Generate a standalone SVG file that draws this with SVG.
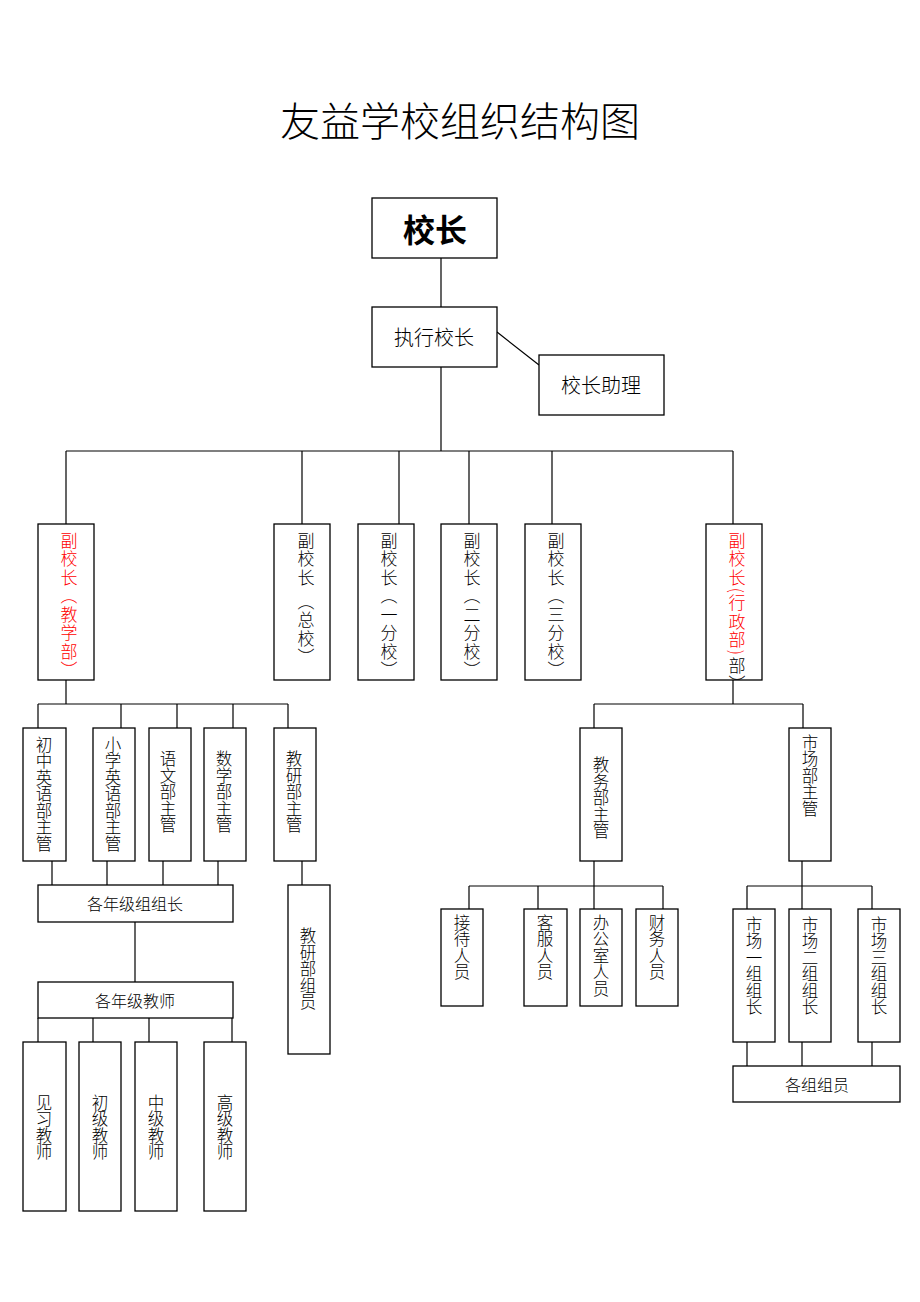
<svg xmlns="http://www.w3.org/2000/svg" width="920" height="1302" viewBox="0 0 920 1302">
<style>
.bg{fill:#fff}
.box{fill:#fff;stroke:#000;stroke-width:1.3}
.conn{fill:none;stroke:#000;stroke-width:1.2}
text{font-family:"Noto Sans CJK SC","Noto Sans CJK JP",sans-serif;fill:#000;font-weight:300}
.h{font-size:16px;text-anchor:middle;dominant-baseline:central}
.big{font-size:20px}
.top{font-size:32px;font-weight:bold}
.title{font-size:40px}
.v{writing-mode:vertical-rl;font-size:16.5px}
.vp{writing-mode:vertical-rl;font-size:17px;letter-spacing:1.5px}
.mid{text-anchor:middle}
.red{fill:#ff0000}
</style>
<rect class="bg" x="0" y="0" width="920" height="1302"/>
<text x="460" y="119" class="h title">友益学校组织结构图</text>

<g id="connectors">
<path class="conn" d="M441 258V307 M497 332L539 365 M441 367V451 M66 451H733 M66 451V524 M302 451V524 M399 451V524 M469 451V524 M552 451V524 M733 451V524
M66 680V704 M38 704H288 M38 704V728 M121 704V728 M177 704V728 M233 704V728 M288 704V728
M52 861V885 M107 861V885 M163 861V885 M218 861V885 M302 861V885
M135 922V982
M38 1018V1042 M93 1018V1042 M149 1018V1042 M232 1018V1042
M733 680V704 M594 704H803 M594 704V728 M803 704V728
M594 861V886 M469 886H663 M469 886V909 M538 886V909 M594 886V909 M663 886V909
M802 861V886 M747 886H872 M747 886V909 M802 886V909 M872 886V909
M747 1042V1066 M802 1042V1066 M872 1042V1066"/>
</g>

<g id="principal"><rect class="box" x="372" y="198" width="125" height="60"/><text x="435" y="228" class="h top">校长</text></g>
<g id="exec"><rect class="box" x="372" y="307" width="125" height="60"/><text x="434" y="336" class="h big">执行校长</text></g>
<g id="assistant"><rect class="box" x="539" y="355" width="125" height="60"/><text x="601" y="384" class="h big">校长助理</text></g>

<g id="vp-teach"><rect class="box" x="38" y="524" width="56" height="156"/><text x="69" y="532" class="vp red">副校长（教学部）</text></g>
<g id="vp-main"><rect class="box" x="274" y="524" width="56" height="156"/><text x="306" y="532" class="vp">副校长 （总校）</text></g>
<g id="vp-1"><rect class="box" x="358" y="524" width="56" height="156"/><text x="389" y="532" class="vp">副校长（一分校）</text></g>
<g id="vp-2"><rect class="box" x="441" y="524" width="56" height="156"/><text x="472" y="532" class="vp">副校长（二分校）</text></g>
<g id="vp-3"><rect class="box" x="525" y="524" width="56" height="156"/><text x="556" y="532" class="vp">副校长（三分校）</text></g>
<g id="vp-admin"><rect class="box" x="706" y="524" width="56" height="156"/><text x="737" y="532" class="vp"><tspan class="red">副校长(行政部)</tspan>部）</text></g>

<g id="jr-eng"><rect class="box" x="23" y="728" width="43" height="133"/><text x="44" y="794" class="v mid">初中英语部主管</text></g>
<g id="pri-eng"><rect class="box" x="93" y="728" width="42" height="133"/><text x="113" y="794" class="v mid">小学英语部主管</text></g>
<g id="chinese"><rect class="box" x="149" y="728" width="42" height="133"/><text x="168" y="792" class="v mid">语文部主管</text></g>
<g id="math"><rect class="box" x="204" y="728" width="42" height="133"/><text x="224" y="792" class="v mid">数学部主管</text></g>
<g id="research"><rect class="box" x="274" y="728" width="42" height="133"/><text x="294" y="792" class="v mid">教研部主管</text></g>
<g id="research-staff"><rect class="box" x="288" y="885" width="42" height="169"/><text x="308" y="969" class="v mid">教研部组员</text></g>

<g id="grade-leaders"><rect class="box" x="38" y="885" width="195" height="37"/><text x="135" y="903" class="h">各年级组组长</text></g>
<g id="grade-teachers"><rect class="box" x="38" y="982" width="195" height="36"/><text x="135" y="1000" class="h">各年级教师</text></g>

<g id="t-intern"><rect class="box" x="23" y="1042" width="43" height="169"/><text x="44" y="1127" class="v mid">见习教师</text></g>
<g id="t-junior"><rect class="box" x="79" y="1042" width="42" height="169"/><text x="100" y="1127" class="v mid">初级教师</text></g>
<g id="t-middle"><rect class="box" x="135" y="1042" width="42" height="169"/><text x="156" y="1127" class="v mid">中级教师</text></g>
<g id="t-senior"><rect class="box" x="204" y="1042" width="42" height="169"/><text x="225" y="1127" class="v mid">高级教师</text></g>

<g id="academic"><rect class="box" x="580" y="728" width="42" height="133"/><text x="601" y="798" class="v mid">教务部主管</text></g>
<g id="market"><rect class="box" x="789" y="728" width="42" height="133"/><text x="810" y="734" class="v">市场部主管</text></g>

<g id="reception"><rect class="box" x="441" y="909" width="42" height="97"/><text x="462" y="914" class="v">接待人员</text></g>
<g id="service"><rect class="box" x="524" y="909" width="43" height="97"/><text x="545" y="914" class="v">客服人员</text></g>
<g id="office"><rect class="box" x="580" y="909" width="42" height="97"/><text x="601" y="914" class="v">办公室人员</text></g>
<g id="finance"><rect class="box" x="636" y="909" width="42" height="97"/><text x="657" y="914" class="v">财务人员</text></g>

<g id="m1"><rect class="box" x="733" y="909" width="42" height="133"/><text x="754" y="916" class="v">市场一组组长</text></g>
<g id="m2"><rect class="box" x="789" y="909" width="42" height="133"/><text x="810" y="916" class="v">市场二组组长</text></g>
<g id="m3"><rect class="box" x="858" y="909" width="42" height="133"/><text x="879" y="916" class="v">市场三组组长</text></g>
<g id="members"><rect class="box" x="733" y="1066" width="167" height="36"/><text x="817" y="1084" class="h">各组组员</text></g>
</svg>
